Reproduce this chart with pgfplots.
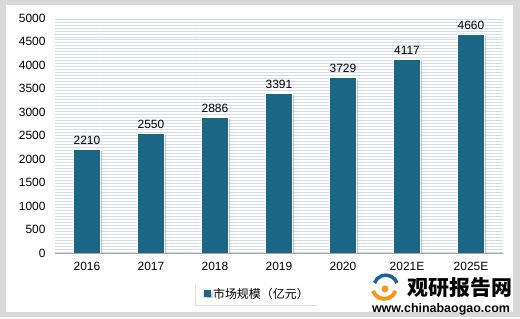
\documentclass[border=0pt]{standalone}
\usepackage{pgfplots}
\pgfplotsset{compat=1.18}
\usepackage{fontspec}
\setmainfont{Liberation Sans}
\newfontfamily\cjk{Noto Sans CJK SC}
\usetikzlibrary{patterns,shadows}
\definecolor{barc}{HTML}{1B6585}
\definecolor{stripe}{HTML}{D3DDE4}
\definecolor{logoorange}{HTML}{F39A1E}
\definecolor{logoblue}{HTML}{1E5FA0}
\begin{document}
\begin{tikzpicture}
\fill[gray!30] (-55bp,-64bp) rectangle (465bp,253bp);
\fill[white] (-49bp,-59bp) rectangle (458bp,248bp);
\begin{axis}[
  at={(0,0)}, anchor=south west,
  scale only axis, width=448bp, height=235bp,
  ymin=0, ymax=5000, ytick={0,500,...,5000},
  xmin=-0.5, xmax=6.5, xtick={0,...,6},
  xticklabels={2016,2017,2018,2019,2020,2021E,2025E},
  axis x line*=bottom, axis y line*=left,
  y axis line style={draw=none},
  x axis line style={draw=gray!70, line width=0.8pt},
  major tick length=0pt,
  tick label style={font=\fontsize{12}{14}\selectfont, text=black},
  /pgf/number format/assume math mode=true,
  /pgf/number format/set thousands separator={},
  yticklabel style={xshift=-6bp},
  xticklabel style={yshift=-6bp},
  axis background/.style={fill=white, postaction={pattern=horizontal lines, pattern color=stripe}},
  legend style={at={(0.452,-0.174)}, anchor=center, draw=none, fill=white,
    drop shadow={shadow xshift=-1.5pt, shadow yshift=-1.5pt, opacity=0.25},
    font=\cjk\fontsize{12}{14}\selectfont, inner xsep=8pt, inner ysep=3pt},
  legend image code/.code={\fill[barc] (0bp,-3bp) rectangle (6bp,3bp);},
]
\addplot[ybar, bar width=27bp, fill=barc, draw=white, line width=0.8pt,
  drop shadow={shadow xshift=2pt, shadow yshift=-1.5pt, opacity=0.45},
  nodes near coords,
  every node near coord/.append style={font=\fontsize{12}{14}\selectfont, text=black, yshift=1bp, /pgf/number format/assume math mode=true},
] coordinates {(0,2210) (1,2550) (2,2886) (3,3391) (4,3729) (5,4117) (6,4660)};
\addlegendentry{市场规模（亿元）}
\end{axis}
% logo
\draw[logoorange, line width=4bp] (318bp,-38bp) arc (200:340:12bp);
\draw[logoblue, line width=3.5bp] (342bp,-30bp) arc (20:160:12bp);
\fill[logoorange] (330bp,-36bp) circle (3.5bp);
\node[font=\cjk\bfseries\fontsize{21}{23}\selectfont, anchor=center] at (405bp,-35bp) {观研报告网};
\node[font=\bfseries\fontsize{12.5}{14}\selectfont, anchor=center] at (386bp,-56bp) {www.chinabaogao.com};
\end{tikzpicture}
\end{document}
